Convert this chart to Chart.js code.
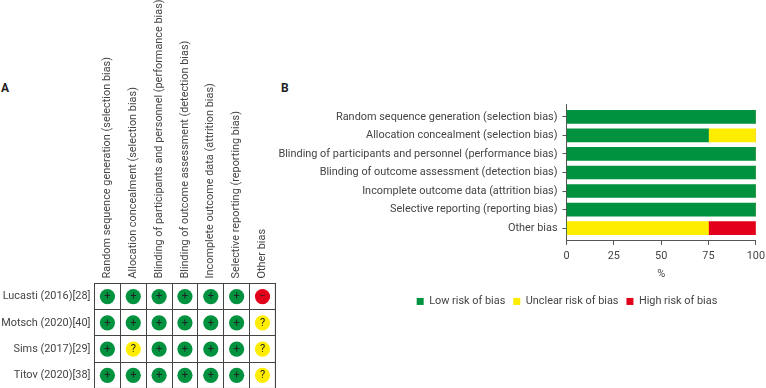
<!DOCTYPE html>
<html>
<head>
<meta charset="utf-8">
<script src="https://cdn.jsdelivr.net/npm/chart.js@4"></script>
<style>
  html, body { margin: 0; padding: 0; background: #fff; }
  #page { position: relative; width: 766px; height: 388px; overflow: hidden; }
  canvas { position: absolute; top: 0; }
  .tag { position: absolute; top: 81px; font: bold 12px Roboto, sans-serif; color: #222; }
</style>
</head>
<body>
<div id="page">
  <span class="tag" style="left:1px">A</span>
  <span class="tag" style="left:281px">B</span>
  <canvas id="chMatrix" width="283" height="399" style="left:0"></canvas>
  <canvas id="chBars" width="492" height="388" style="left:278px"></canvas>
</div>
<script>
var fontName = 'Roboto, sans-serif';
var fontSize = 10.9;
var textColor = '#444';
var green = '#00923f', yellow = '#ffed00', red = '#e2001a';

var domains = [
  'Random sequence generation (selection bias)',
  'Allocation concealment (selection bias)',
  'Blinding of participants and personnel (performance bias)',
  'Blinding of outcome assessment (detection bias)',
  'Incomplete outcome data (attrition bias)',
  'Selective reporting (reporting bias)',
  'Other bias'
];
var studies = ['Lucasti (2016)[28]', 'Motsch (2020)[40]', 'Sims (2017)[29]', 'Titov (2020)[38]'];

// one row per study, one sign per domain
var lucasti = ['+', '+', '+', '+', '+', '+', '-'];
var motsch = ['+', '+', '+', '+', '+', '+', '?'];
var sims = ['+', '?', '+', '+', '+', '+', '?'];
var titov = ['+', '+', '+', '+', '+', '+', '?'];

// percent of studies per domain
var lowRisk = [100, 75, 100, 100, 100, 100, 0];
var unclearRisk = [0, 25, 0, 0, 0, 0, 75];
var highRisk = [0, 0, 0, 0, 0, 0, 25];
var percentTicks = [0, 25, 50, 75, 100];

var signColors = {'+': green, '?': yellow, '-': red};
var signText = {'+': '+', '?': '?', '-': '\u2212'};

var matrixPoints = [];
[lucasti, motsch, sims, titov].forEach(function (row, r) {
  row.forEach(function (sign, c) {
    matrixPoints.push({x: domains[c], y: studies[r], sign: sign});
  });
});

// writes the + ? - on top of the circles
var signPlugin = {
  id: 'signs',
  afterDatasetsDraw: function (chart) {
    var ctx = chart.ctx;
    ctx.save();
    ctx.fillStyle = '#222';
    ctx.font = '11px ' + fontName;
    ctx.textAlign = 'center';
    ctx.textBaseline = 'middle';
    chart.getDatasetMeta(0).data.forEach(function (el, i) {
      ctx.fillText(signText[matrixPoints[i].sign], el.x, el.y);
    });
    ctx.restore();
  }
};

new Chart(document.getElementById('chMatrix'), {
  type: 'scatter',
  data: {
    datasets: [{
      data: matrixPoints,
      pointRadius: 7.6,
      pointHoverRadius: 7.6,
      borderWidth: 0,
      backgroundColor: function (c) { return signColors[c.raw.sign]; }
    }]
  },
  options: {
    responsive: false,
    animation: false,
    layout: {padding: {right: 3, bottom: 1}},
    plugins: {legend: {display: false}, tooltip: {enabled: false}},
    scales: {
      x: {
        type: 'category',
        labels: domains,
        position: 'top',
        offset: true,
        afterFit: function (s) { s.height = 283.5; },
        border: {color: '#444'},
        grid: {offset: true, color: '#444', drawTicks: false},
        ticks: {color: textColor, font: {family: fontName, size: fontSize}, minRotation: 90, maxRotation: 90, padding: 5, labelOffset: 13, autoSkip: false}
      },
      y: {
        type: 'category',
        labels: studies,
        offset: true,
        afterFit: function (s) { s.width = 94.5; },
        border: {color: '#444'},
        grid: {offset: true, color: '#444', drawTicks: false},
        ticks: {color: textColor, font: {family: fontName, size: fontSize}, padding: 4, autoSkip: false}
      }
    }
  },
  plugins: [signPlugin, {
    id: 'frame',
    afterDraw: function (chart) {
      var a = chart.chartArea, ctx = chart.ctx;
      ctx.save();
      ctx.strokeStyle = '#444';
      ctx.strokeRect(a.left, a.top, a.width, a.height);
      ctx.restore();
    }
  }]
});

function toBars(values) {
  return values.map(function (v, i) { return {x: v, y: i}; });
}

new Chart(document.getElementById('chBars'), {
  type: 'bar',
  data: {
    datasets: [
      {label: 'Low risk of bias', data: toBars(lowRisk), backgroundColor: green},
      {label: 'Unclear risk of bias', data: toBars(unclearRisk), backgroundColor: yellow},
      {label: 'High risk of bias', data: toBars(highRisk), backgroundColor: red}
    ]
  },
  options: {
    indexAxis: 'y',
    responsive: false,
    animation: false,
    barThickness: 13,
    layout: {padding: {top: 104, right: 8, bottom: 78}},
    plugins: {
      tooltip: {enabled: false},
      legend: {
        position: 'bottom',
        labels: {color: textColor, font: {family: fontName, size: fontSize}, boxWidth: 7, boxHeight: 7, padding: 8}
      }
    },
    scales: {
      x: {
        type: 'linear',
        stacked: true,
        min: 0,
        max: 100,
        afterBuildTicks: function (s) { s.ticks = percentTicks.map(function (v) { return {value: v}; }); },
        border: {color: '#555'},
        grid: {display: true, drawOnChartArea: false, color: '#555', tickLength: 4},
        ticks: {color: textColor, font: {family: fontName, size: fontSize}, padding: 5, maxRotation: 0},
        title: {display: true, text: '%', color: textColor, font: {family: fontName, size: fontSize}, padding: {top: 0, bottom: 0}}
      },
      y: {
        type: 'linear',
        stacked: true,
        reverse: true,
        offset: false,
        min: -0.69,
        max: 6.69,
        afterBuildTicks: function (s) { s.ticks = domains.map(function (d, i) { return {value: i}; }); },
        afterFit: function (s) { s.width = 288.5; },
        border: {color: '#555'},
        grid: {display: true, offset: false, drawOnChartArea: false, color: '#555', tickLength: 4},
        ticks: {
          color: textColor,
          font: {family: fontName, size: fontSize},
          padding: 5,
          autoSkip: false,
          callback: function (v) { return domains[v]; }
        }
      }
    }
  },
  plugins: [{
    // legend sits centred under x=567 on the page, not under the canvas
    id: 'moveLegend',
    afterLayout: function (chart) {
      var lg = chart.legend;
      var h = lg.bottom - lg.top;
      lg.left = 90;
      lg.right = 488;
      lg.top = 288;
      lg.bottom = lg.top + h;
    }
  }]
});
</script>
</body>
</html>
